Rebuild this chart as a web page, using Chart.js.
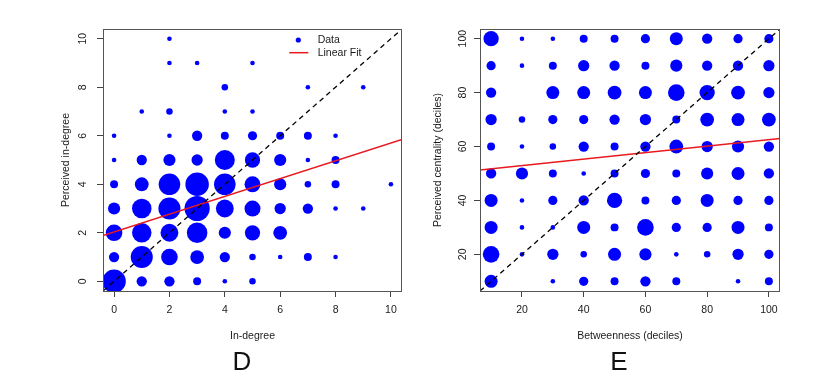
<!DOCTYPE html>
<html>
<head>
<meta charset="utf-8">
<script src="https://cdn.jsdelivr.net/npm/chart.js@4"></script>
<style>
  html,body{margin:0;padding:0;background:#fff;}
  #wrap{position:relative;width:831px;height:385px;overflow:hidden;background:#fff;}
  canvas{position:absolute;top:0;}
  #cD{left:0;}
  #cE{left:420px;}
  .tag{position:absolute;top:348px;font-family:'Liberation Sans',Arial,sans-serif;font-size:26px;line-height:26px;color:#111;transform:translateX(-50%);}
</style>
</head>
<body>
<div id="wrap">
  <canvas id="cD" width="420" height="385"></canvas>
  <canvas id="cE" width="411" height="385"></canvas>
  <div class="tag" style="left:242px">D</div>
  <div class="tag" style="left:619px">E</div>
</div>
<script>
// ---- panel D : in-degree vs perceived in-degree ----
const degX = [0,1,2,3,4,5,6,7,8,9,10];
const degY = [0,1,2,3,4,5,6,7,8,9,10];
// one row per degY value, one count per degX value (0 = no point)
const degCount = [
  [26, 5, 5, 3, 1, 2, 0, 0, 0, 0, 0],
  [ 5,23,13, 9, 5, 2, 1, 3, 1, 0, 0],
  [13,18,15,20, 7,11, 9, 0, 0, 0, 0],
  [ 7,18,23,30,15,12, 6, 5, 1, 1, 0],
  [ 3, 9,22,26,22,12, 7, 2, 3, 0, 1],
  [ 1, 5, 7, 6,19,11, 7, 1, 3, 0, 0],
  [ 1, 0, 1, 5, 3, 4, 3, 3, 1, 0, 0],
  [ 0, 1, 2, 0, 1, 1, 0, 0, 0, 0, 0],
  [ 0, 0, 0, 0, 2, 0, 0, 1, 0, 1, 0],
  [ 0, 0, 1, 1, 0, 1, 0, 0, 0, 0, 0],
  [ 0, 0, 1, 0, 0, 0, 0, 0, 0, 0, 0]
];
const degFitX = [-0.4, 10.4];
const degFitY = [1.89, 5.85];
const degRange = [-0.4, 10.4];
const degTicks = [0,2,4,6,8,10];

// ---- panel E : betweenness deciles vs perceived centrality deciles ----
const decX = [10,20,30,40,50,60,70,80,90,100];
const decY = [10,20,30,40,50,60,70,80,90,100];
const decCount = [
  [ 8, 0, 1, 4, 3, 5, 3, 0, 1, 3],
  [13, 1, 6, 2, 8, 7, 1, 2, 6, 4],
  [ 8, 1, 1, 8, 3,13, 4, 4, 8, 3],
  [ 8, 1, 4, 5,11, 3, 4, 8, 4, 4],
  [ 5, 7, 3, 1, 3, 4, 3, 7, 8, 5],
  [ 3, 1, 2, 5, 3, 5, 9, 6, 7, 5],
  [ 6, 2, 4, 4, 5, 6, 3, 9, 8, 9],
  [ 5, 0, 8, 8, 9, 8,13,11, 9, 6],
  [ 4, 1, 3, 6, 5, 3, 7, 5, 5, 6],
  [11, 1, 1, 3, 3, 4, 8, 5, 4, 4]
];
const decFitX = [6.4, 103.6];
const decFitY = [51.3, 63.0];
const decRange = [6.4, 103.6];
const decTicks = [20,40,60,80,100];

const FONT = "'Liberation Sans', Arial, sans-serif";
const TXT = '#1a1a1a';
const BLUE = '#0000ff';
const RED = '#e8191f';

function bubbles(xs, ys, counts){
  const pts = [];
  counts.forEach((row,i)=>row.forEach((n,j)=>{
    if(n>0) pts.push({x:xs[j], y:ys[i], r:2.3*Math.sqrt(n)});
  }));
  return pts;
}
function pairs(xs, ys){ return xs.map((x,i)=>({x, y:ys[i]})); }

// plot frame like R's box()
const framePlugin = {
  id:'frame',
  afterDatasetsDraw(chart){
    const {ctx, chartArea:a} = chart;
    ctx.save();
    ctx.strokeStyle = '#555'; ctx.lineWidth = 1;
    ctx.strokeRect(Math.round(a.left)+0.5, Math.round(a.top)+0.5, Math.round(a.right-a.left)-1, Math.round(a.bottom-a.top));
    ctx.restore();
  }
};

// legend sitting inside the plot (top right), no box
const plotLegend = {
  id:'plotLegend',
  afterDatasetsDraw(chart){
    const ctx = chart.ctx;
    ctx.save();
    ctx.fillStyle = BLUE;
    ctx.beginPath(); ctx.arc(298.3, 40, 2.6, 0, Math.PI*2); ctx.fill();
    ctx.strokeStyle = RED; ctx.lineWidth = 1.5;
    ctx.beginPath(); ctx.moveTo(289.3, 52.7); ctx.lineTo(308.3, 52.7); ctx.stroke();
    ctx.fillStyle = TXT; ctx.font = '10.5px ' + FONT; ctx.textBaseline = 'middle';
    ctx.fillText('Data', 317.7, 40);
    ctx.fillText('Linear Fit', 317.7, 52.7);
    ctx.restore();
  }
};

function makeChart(id, o){
  const font = {family:FONT, size:10.5};
  return new Chart(document.getElementById(id), {
    type:'bubble',
    data:{ datasets:[
      { type:'line', data:pairs(o.range, o.range), borderColor:'#000', borderWidth:1.3, borderDash:[5,4], pointRadius:0, order:0 },
      { type:'line', data:pairs(o.fitX, o.fitY), borderColor:RED, borderWidth:1.5, pointRadius:0, order:1 },
      { data:bubbles(o.xs, o.ys, o.counts), backgroundColor:BLUE, borderWidth:0, clip:0, order:2 }
    ]},
    options:{
      responsive:false, animation:false, events:[],
      layout:{ padding:o.pad },
      plugins:{ legend:{display:false}, tooltip:{enabled:false} },
      scales:{
        x:{
          type:'linear', min:o.range[0], max:o.range[1],
          afterBuildTicks:s=>{ s.ticks = o.ticks.map(v=>({value:v})); },
          afterFit:s=>{ s.height = 54; },
          grid:{ drawOnChartArea:false, drawTicks:true, tickLength:6, color:'#444' },
          border:{ display:false },
          ticks:{ color:TXT, font, padding:7, maxRotation:0 },
          title:{ display:true, text:o.xTitle, color:TXT, font, padding:{top:0, bottom:2.7} }
        },
        y:{
          type:'linear', min:o.range[0], max:o.range[1],
          afterBuildTicks:s=>{ s.ticks = o.ticks.map(v=>({value:v})); },
          afterFit:s=>{ s.width = o.yWidth; },
          grid:{ drawOnChartArea:false, drawTicks:true, tickLength:6, color:'#444' },
          border:{ display:false },
          ticks:{ color:TXT, font, minRotation:90, maxRotation:90, crossAlign:'center', padding:o.yTickPad },
          title:{ display:true, text:o.yTitle, color:TXT, font, padding:{top:o.yTitlePad, bottom:0} }
        }
      }
    },
    plugins: o.legend ? [framePlugin, plotLegend] : [framePlugin]
  });
}

makeChart('cD', {
  xs:degX, ys:degY, counts:degCount, fitX:degFitX, fitY:degFitY, range:degRange, ticks:degTicks,
  xTitle:'In-degree', yTitle:'Perceived in-degree',
  pad:{left:0, right:18, top:29, bottom:40}, yWidth:103, yTickPad:7.8, yTitlePad:59.4, legend:true
});
makeChart('cE', {
  xs:decX, ys:decY, counts:decCount, fitX:decFitX, fitY:decFitY, range:decRange, ticks:decTicks,
  xTitle:'Betweenness (deciles)', yTitle:'Perceived centrality (deciles)',
  pad:{left:0, right:51, top:29, bottom:40}, yWidth:60, yTickPad:2.5, yTitlePad:11.7, legend:false
});
</script>
</body>
</html>
